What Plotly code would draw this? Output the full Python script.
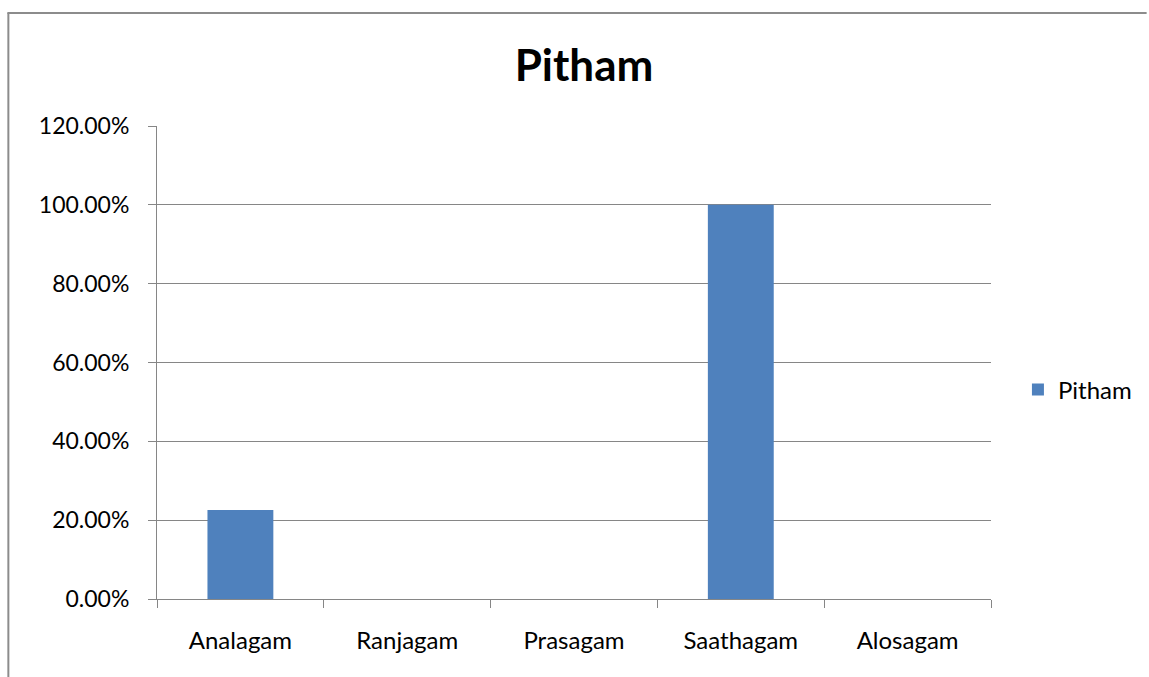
import plotly.graph_objects as go

categories = ["Analagam", "Ranjagam", "Prasagam", "Saathagam", "Alosagam"]
pitham = [0.2258, 0.0, 0.0, 1.0, 0.0]
y_ticks = [0.0, 0.2, 0.4, 0.6, 0.8, 1.0, 1.2]
y_tick_labels = ["0.00%", "20.00%", "40.00%", "60.00%", "80.00%", "100.00%", "120.00%"]

W, H = 1149, 677
L, R, T, B = 157, 993, 126, 599
FONT = "Lato"
AXIS_GRAY = "#868686"


def px_x(x):
    return (x - L) / (R - L)


def px_y(y):
    return (B - y) / (B - T)


fig = go.Figure()
fig.add_trace(go.Bar(
    x=categories,
    y=pitham,
    name="Pitham",
    marker=dict(color="#4F81BD", line=dict(width=0)),
    width=0.395,
))

fig.update_layout(
    width=W,
    height=H,
    margin=dict(l=L, r=W - R, t=T, b=H - B, pad=0),
    paper_bgcolor="white",
    plot_bgcolor="white",
    font=dict(family=FONT, color="#000000", size=24),
    showlegend=True,
    legend=dict(
        x=px_x(1020), y=px_y(390), xanchor="left", yanchor="middle",
        font=dict(family=FONT, size=24, color="#000000"),
        itemwidth=30, bgcolor="rgba(0,0,0,0)",
    ),
    title=dict(
        text="<b>Pitham</b>", x=584 / W, xanchor="center", xref="container",
        y=1 - 66 / H, yanchor="middle", yref="container",
        font=dict(family=FONT, size=44, color="#000000"),
    ),
    bargap=0.605,
    xaxis=dict(
        type="category",
        showgrid=False,
        showline=True, linecolor=AXIS_GRAY, linewidth=1,
        ticks="outside", ticklen=8, tickcolor=AXIS_GRAY,
        tickson="boundaries",
        tickfont=dict(family=FONT, size=24, color="#000000"),
        ticklabelstandoff=20,
    ),
    yaxis=dict(
        range=[0, 1.2],
        tickvals=y_ticks, ticktext=y_tick_labels,
        showgrid=True, gridcolor=AXIS_GRAY, gridwidth=1,
        showline=True, linecolor=AXIS_GRAY, linewidth=1,
        ticks="outside", ticklen=8, tickcolor=AXIS_GRAY,
        tickfont=dict(family=FONT, size=23, color="#000000"),
        ticklabelstandoff=14,
        zeroline=False,
    ),
)

# Chart frame: only the left and top edges fall inside the page
frame = dict(type="line", xref="paper", yref="paper",
             line=dict(color="#8C8C8C", width=2), layer="below")
fig.add_shape(x0=px_x(8), x1=px_x(8), y0=px_y(H), y1=px_y(13), **frame)
fig.add_shape(x0=px_x(7), x1=px_x(W), y0=px_y(13), y1=px_y(13), **frame)

fig.write_html("out.html")
